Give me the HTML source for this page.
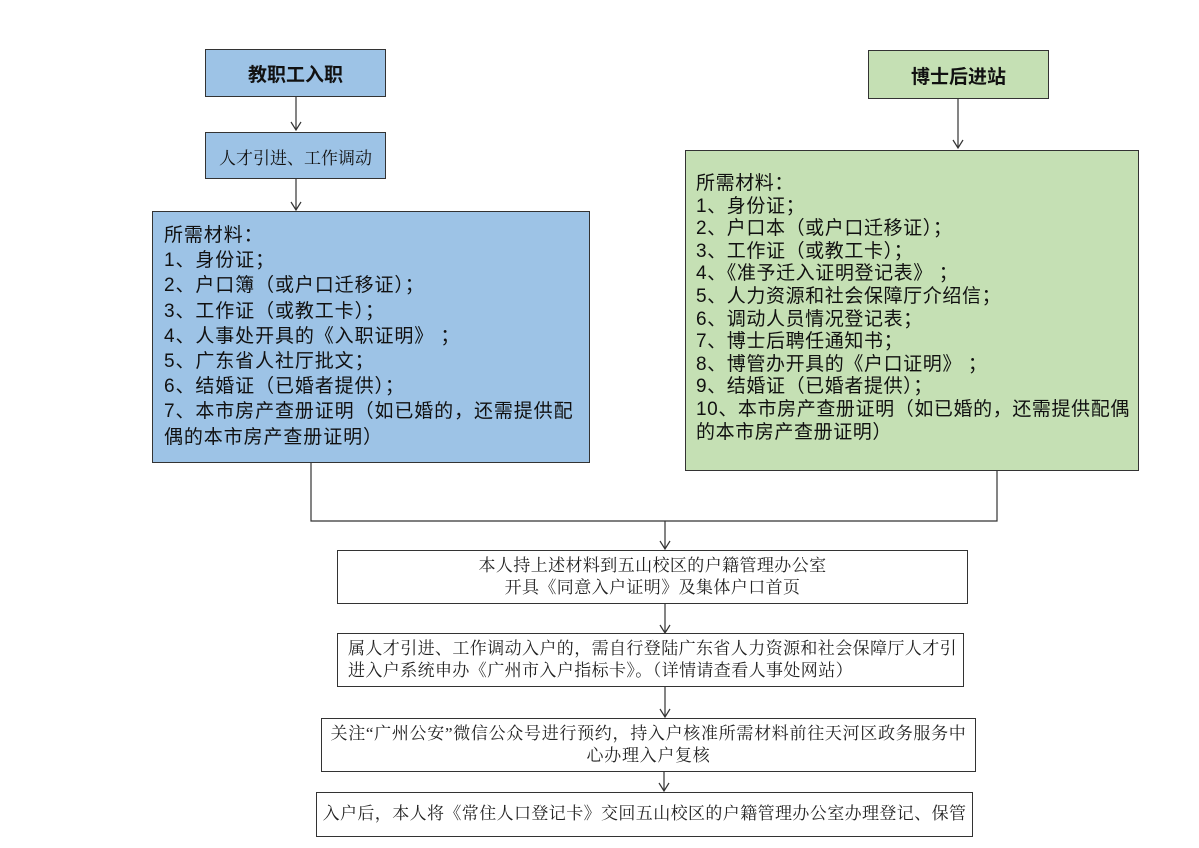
<!DOCTYPE html>
<html><head><meta charset="utf-8"><style>
body{margin:0;background:#fff;}
#c{position:relative;width:1199px;height:848px;overflow:hidden;font-family:"Liberation Sans","Noto Sans CJK SC",sans-serif;}
.b{position:absolute;box-sizing:border-box;border:1.5px solid #333;}
.blue{background:#9dc3e6;}
.green{background:#c5e0b4;}
.t{position:absolute;white-space:pre;color:#111;}
.s{font-family:"Liberation Serif","Noto Serif CJK SC",serif;font-size:17px;letter-spacing:0.4px;color:#222;text-align:center;position:absolute;white-space:pre;line-height:22px;}
</style></head><body><div id="c">
<svg width="1199" height="848" style="position:absolute;left:0;top:0" fill="none" stroke="#333" stroke-width="1.2">
<path d="M296 96V130M291 122L296 130L301 122"/>
<path d="M296 178V210M291 202L296 210L301 202"/>
<path d="M958 98V148M953 140L958 148L963 140"/>
<path d="M311 462V521H997V470"/>
<path d="M665 521V549M660 541L665 549L670 541"/>
<path d="M665 603V633M660 625L665 633L670 625"/>
<path d="M665 687V717M660 709L665 717L670 709"/>
<path d="M664 771V791M659 783L664 791L669 783"/>
</svg>
<div class="b blue" style="left:205px;top:49px;width:181px;height:48px"></div>
<div class="t" style="left:205px;top:60px;width:181px;text-align:center;font-size:19px;font-weight:bold">教职工入职</div>
<div class="b blue" style="left:205px;top:132px;width:181px;height:47px"></div>
<div class="t" style="left:205px;top:144px;width:181px;text-align:center;font-family:'Liberation Serif','Noto Serif CJK SC',serif;font-size:17px">人才引进、工作调动</div>
<div class="b blue" style="left:152px;top:211px;width:438px;height:252px"></div>
<div class="t" style="left:164px;top:223px;font-size:19px;line-height:25.2px;letter-spacing:0.9px">所需材料：
1、身份证；
2、户口簿（或户口迁移证）；
3、工作证（或教工卡）；
4、人事处开具的《入职证明》 ；
5、广东省人社厅批文；
6、结婚证（已婚者提供）；
7、本市房产查册证明（如已婚的，还需提供配
偶的本市房产查册证明）</div>
<div class="b green" style="left:868px;top:50px;width:181px;height:49px"></div>
<div class="t" style="left:868px;top:62px;width:181px;text-align:center;font-size:19px;font-weight:bold">博士后进站</div>
<div class="b green" style="left:685px;top:150px;width:454px;height:321px"></div>
<div class="t" style="left:696px;top:173px;font-size:19px;line-height:22.6px;letter-spacing:0.6px">所需材料：
1、身份证；
2、户口本（或户口迁移证）；
3、工作证（或教工卡）；
4、《准予迁入证明登记表》 ；
5、人力资源和社会保障厅介绍信；
6、调动人员情况登记表；
7、博士后聘任通知书；
8、博管办开具的《户口证明》 ；
9、结婚证（已婚者提供）；
10、本市房产查册证明（如已婚的，还需提供配偶
的本市房产查册证明）</div>
<div class="b" style="left:337px;top:550px;width:631px;height:54px"></div>
<div class="s" style="left:337px;top:555px;width:631px">本人持上述材料到五山校区的户籍管理办公室
开具《同意入户证明》及集体户口首页</div>
<div class="b" style="left:337px;top:633px;width:627px;height:54px"></div>
<div class="s" style="left:348px;top:638px;text-align:left;letter-spacing:0.4px">属人才引进、工作调动入户的，需自行登陆广东省人力资源和社会保障厅人才引
进入户系统申办《广州市入户指标卡》。（详情请查看人事处网站）</div>
<div class="b" style="left:321px;top:718px;width:655px;height:54px"></div>
<div class="s" style="left:321px;top:723px;width:655px;letter-spacing:0.7px">关注“广州公安”微信公众号进行预约，持入户核准所需材料前往天河区政务服务中
心办理入户复核</div>
<div class="b" style="left:316px;top:792px;width:657px;height:45px"></div>
<div class="s" style="left:316px;top:803px;width:657px">入户后，本人将《常住人口登记卡》交回五山校区的户籍管理办公室办理登记、保管</div>
</div></body></html>
